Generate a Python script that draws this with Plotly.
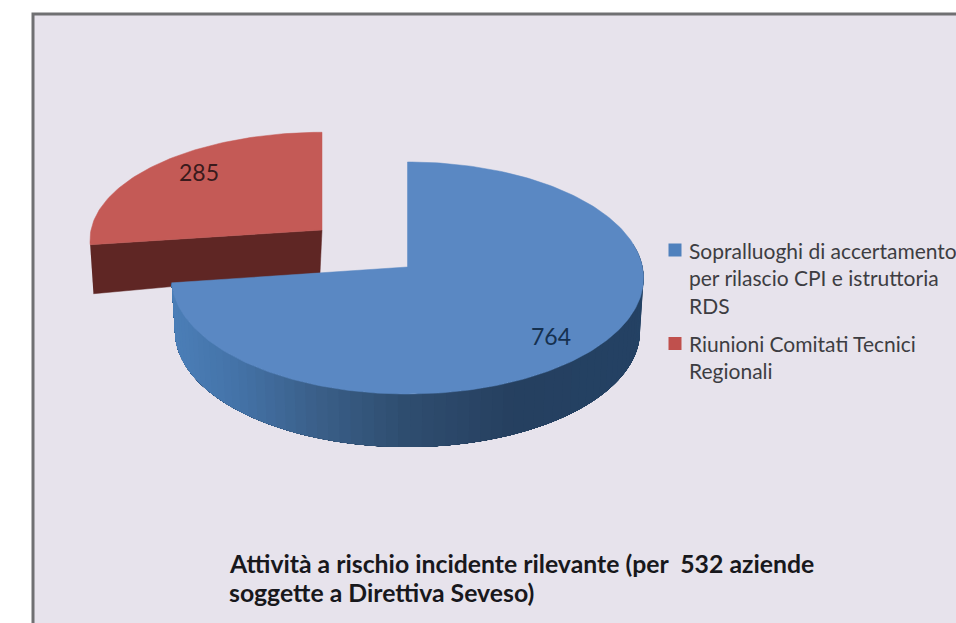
import numpy as np
import plotly.graph_objects as go

# --- data ---
categories = ["Sopralluoghi di accertamento per rilascio CPI e istruttoria RDS",
              "Riunioni Comitati Tecnici Regionali"]
values = [764, 285]
legend_lines = [["Sopralluoghi di accertamento", "per rilascio CPI e istruttoria", "RDS"],
                ["Riunioni Comitati Tecnici", "Regionali"]]
title_lines = ["Attività a rischio incidente rilevante (per  532 aziende",
               "soggette a Direttiva Seveso)"]

# --- style ---
FONT = "Lato, Carlito, 'Open Sans', sans-serif"
BG = "#e7e3ec"
BORDER = "#707072"
BLUE_TOP, BLUE_KEY = "#5a88c3", "#4f81bd"
RED_TOP, RED_KEY = "#c45a56", "#c0504d"
RED_SIDE = "#5f2624"
P = 0.0948

fig = go.Figure()


def project(t, cx, cy, rx, ry):
    """Clockwise angle from 12 o'clock -> screen position with perspective."""
    u, v = np.sin(t), -np.cos(t)
    w = 1 - P * v
    return cx + rx * u / w, cy + ry * v / w


end_blue = 2 * np.pi * values[0] / sum(values)

# red slice (pulled away up-left)
rc = dict(cx=322, cy=230, rx=231, ry=107)
t_red = np.linspace(end_blue, 2 * np.pi, 80)
xr, yr = project(t_red, **rc)
lx, ly = xr[0], yr[0]
fig.add_trace(go.Scatter(
    x=[lx, rc["cx"], rc["cx"] - 2, 0.975 * (lx - rc["cx"]) + rc["cx"] - 2.5],
    y=[ly, rc["cy"], rc["cy"] + 43, ly + 49],
    fill="toself", fillcolor=RED_SIDE, mode="lines", line=dict(color=RED_SIDE, width=0.5),
    showlegend=False, hoverinfo="skip"))
fig.add_trace(go.Scatter(
    x=np.r_[rc["cx"], xr, rc["cx"]], y=np.r_[rc["cy"], yr, rc["cy"]],
    fill="toself", fillcolor=RED_TOP, mode="lines", line=dict(color=RED_TOP, width=0.5),
    showlegend=False, name=categories[1], hoverinfo="name"))

# blue slice: the rim is painted back to front as overlapping strips, so no seams show
bc = dict(cx=407.5, cy=267, rx=235, ry=115)
DEPTH = 53
stops_x = [172, 240, 320, 410, 520, 640]
stops_rgb = np.array([[76, 127, 184], [68, 115, 168], [59, 96, 138],
                      [47, 78, 112], [38, 64, 96], [36, 66, 100]], float)
edges = np.linspace(np.radians(78), end_blue, 70)
for a in edges[:-1]:
    ts = np.linspace(a, end_blue, 90)
    xt, yt = project(ts, **bc)
    xlo = bc["cx"] + (xt - bc["cx"]) * 0.985
    ylo = yt + DEPTH
    rgb = [np.interp(xt[0], stops_x, stops_rgb[:, i]) for i in range(3)]
    col = "rgb(%d,%d,%d)" % tuple(rgb)
    fig.add_trace(go.Scatter(
        x=np.r_[xt, xlo[::-1]], y=np.r_[yt, ylo[::-1]],
        fill="toself", fillcolor=col, mode="none",
        showlegend=False, hoverinfo="skip"))

t_blue = np.linspace(0, end_blue, 240)
xb, yb = project(t_blue, **bc)
fig.add_trace(go.Scatter(
    x=np.r_[bc["cx"], xb, bc["cx"]], y=np.r_[bc["cy"], yb, bc["cy"]],
    fill="toself", fillcolor=BLUE_TOP, mode="lines", line=dict(color=BLUE_TOP, width=0.5),
    showlegend=False, name=categories[0], hoverinfo="name"))

# legend keys
for name, col, yk in zip(categories, [BLUE_KEY, RED_KEY], [250, 343.5]):
    fig.add_trace(go.Scatter(x=[675], y=[yk], mode="markers", name=name,
                             marker=dict(symbol="square", size=13, color=col),
                             showlegend=False, hoverinfo="name"))

ann = []
for lines, ys in zip(legend_lines, [[250, 277.5, 305], [343, 370]]):
    for s, y in zip(lines, ys):
        ann.append(dict(x=687, y=y, text=s, xanchor="left", yanchor="middle", showarrow=False,
                        font=dict(family=FONT, size=21, color="#3d3d42")))
for s, y in zip(title_lines, [563.5, 592.5]):
    ann.append(dict(x=227, y=y, text="<b>%s</b>" % s, xanchor="left", yanchor="middle", showarrow=False,
                    font=dict(family=FONT, size=24.8, color="#18181c")))
ann.append(dict(x=199, y=172, text=str(values[1]), showarrow=False,
                font=dict(family=FONT, size=23, color="#3a1a1c")))
ann.append(dict(x=551, y=336, text=str(values[0]), showarrow=False,
                font=dict(family=FONT, size=23, color="#15304f")))

fig.update_layout(
    width=956, height=623, margin=dict(l=0, r=0, t=0, b=0),
    paper_bgcolor="white", plot_bgcolor="white", showlegend=False,
    xaxis=dict(range=[0, 956], visible=False, fixedrange=True),
    yaxis=dict(range=[623, 0], visible=False, fixedrange=True),
    shapes=[dict(type="rect", x0=33, y0=14, x1=1000, y1=700, layer="below",
                 fillcolor=BG, line=dict(color=BORDER, width=3))],
    annotations=ann,
)
fig.write_html("out.html", config=dict(displayModeBar=False),
               post_script="document.body.style.margin='0';document.documentElement.style.overflow='hidden';")
